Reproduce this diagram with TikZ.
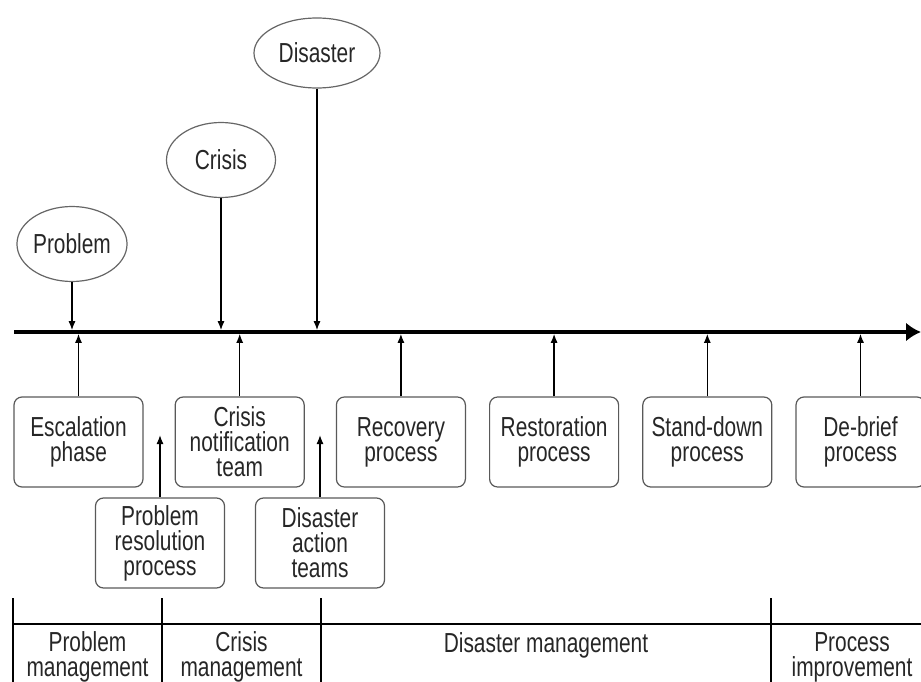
\documentclass[tikz,border=0pt]{standalone}
\usepackage{fontspec}
\setmainfont{Liberation Sans}[FakeStretch=0.76]
\usetikzlibrary{positioning,shapes.geometric,arrows.meta}

\begin{document}
\begin{tikzpicture}[x=1pt, y=-1pt, node distance=23pt, font=\fontsize{27.5pt}{25pt}\selectfont, text=black!85,
		b/.style={rectangle, rounded corners=8pt, draw=black!65, line width=1.2pt, minimum width=129pt, minimum height=90pt, inner sep=0pt, align=center},
		e/.style={ellipse, draw=black!60, line width=1.2pt, inner sep=0pt},
		a/.style={-{Latex[length=9pt,width=7pt]}, line width=1.3pt},
		t/.style={line width=2.2pt}]
		\useasboundingbox (0,0) rectangle (921,682);

		% time axis
		\coordinate (L) at (14,332);
		\coordinate (R) at (921,332);
		\draw[line width=3.5pt, -{Latex[length=15pt,width=19pt]}] (L) -- (R);

		% events
		\node[e, minimum width=110pt, minimum height=75pt] (prob) at (72,244) {Problem};
		\node[e, minimum width=109pt, minimum height=75pt] (cris) at (221,160) {Crisis};
		\node[e, minimum width=126pt, minimum height=70pt] (dis) at (317,53) {Disaster};

		\draw[a, shorten >=1.8pt] (prob) -- (prob |- L);
		\draw[a, shorten >=1.8pt] (cris) -- (cris |- L);
		\draw[a, shorten >=1.8pt] (dis) -- (dis |- L);

		% processes
		\node[b] (esc) at (78.5,442) {Escalation\\phase};
		\node[b, right=31pt of esc] (cnt) {Crisis\\notification\\team};
		\node[b, right=31pt of cnt] (rec) {Recovery\\process};
		\node[b, right=of rec] (rest) {Restoration\\process};
		\node[b, right=of rest] (sd) {Stand-down\\process};
		\node[b, right=of sd] (deb) {De-brief\\process};

		\node[b] (res) at (160,543) {Problem\\resolution\\process};
		\node[b] (dat) at (320,543) {Disaster\\action\\teams};

		\foreach \n in {esc,cnt,rec,rest,sd,deb}
			\draw[a, shorten >=1.8pt] (\n) -- (\n |- L);

		\coordinate (resTip) at (160,435);
		\coordinate (datTip) at (320,435);
		\draw[a] (res) -- (resTip);
		\draw[a] (dat) -- (datTip);

		% phases
		\coordinate (BL) at (13,624);
		\coordinate (BR) at (921,624);
		\draw[t] (BL) -- (BR);
		\foreach \x in {13,162,321,771}
			\draw[t] (\x,598) -- (\x,682);

		\node[align=center] (pm) at (87.5,657) {Problem\\management};
		\node[align=center] (cm) at (241.5,657) {Crisis\\management};
		\node (dm) at (546,645) {Disaster management};
		\node[align=center] (pi) at (852,657) {Process\\improvement};
	\end{tikzpicture}
\end{document}
